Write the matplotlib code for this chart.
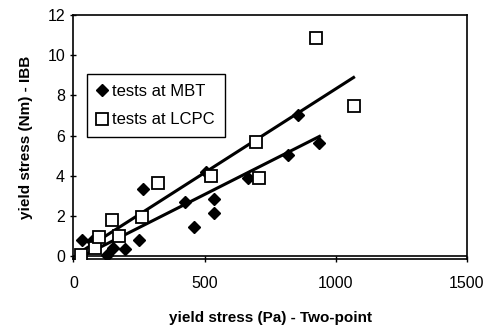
import numpy as np
from matplotlib import pyplot as plt

plt.rcParams['font.family'] = ['Liberation Sans', 'DejaVu Sans']

# tests at MBT
mbt_x = [31, 70, 127, 152, 197, 248, 267, 427, 459, 504, 536, 536, 664, 817, 855, 938]
mbt_y = [0.80, 0.76, 0.05, 0.38, 0.35, 0.80, 3.32, 2.70, 1.43, 4.19, 2.82, 2.15, 3.87, 5.02, 7.00, 5.64]

# tests at LCPC
lcpc_x = [28, 82, 99, 146, 172, 261, 321, 523, 695, 708, 925, 1068]
lcpc_y = [0.05, 0.38, 0.96, 1.80, 1.00, 1.96, 3.65, 3.98, 5.69, 3.87, 10.86, 7.46]

xticks = [0, 500, 1000, 1500]
yticks = [0, 2, 4, 6, 8, 10, 12]


def trend(x, y):
    a, b = np.polyfit(x, y, 1)
    xs = np.array([min(x), max(x)])
    return xs, a*xs + b


fig = plt.figure(figsize=(4.93, 3.27), dpi=100)
ax = fig.add_axes([0.149, 0.208, 0.798, 0.746])

ax.plot(mbt_x, mbt_y, 'D', color='black', markersize=6.5, label='tests at MBT', zorder=3)
ax.plot(lcpc_x, lcpc_y, 's', mfc='white', mec='black', mew=1.3, markersize=9,
        label='tests at LCPC', zorder=3)

xs, ys = trend(mbt_x, mbt_y)
ax.plot(xs, ys, color='black', lw=2.2, zorder=2)
xs, ys = trend(lcpc_x, lcpc_y)
ax.plot(xs, ys, color='black', lw=2.2, zorder=2)

ax.axhline(0, color='black', lw=1.2, zorder=1)
ax.set_xlim(0, 1500)
ax.set_ylim(-0.15, 12)
ax.set_xticks(xticks)
ax.set_yticks(yticks)
ax.tick_params(direction='inout', length=5, width=1, labelsize=11.5, colors='black')
ax.tick_params(axis='x', pad=10)
for s in ax.spines.values():
    s.set_linewidth(1.2)

ax.set_xlabel('yield stress (Pa) - Two-point', fontsize=11, fontweight='bold', labelpad=14)
ax.set_ylabel('yield stress (Nm) - IBB', fontsize=11, fontweight='bold', labelpad=10)

leg = ax.legend(loc='upper left', bbox_to_anchor=(87/493, 1 - 74/327),
                bbox_transform=fig.transFigure, fancybox=False, framealpha=1,
                edgecolor='black', fontsize=12, handlelength=0.6, handletextpad=0.3,
                borderpad=0.6, labelspacing=0.8, borderaxespad=0)
leg.get_frame().set_linewidth(1)

plt.savefig('out.png', dpi=100)
